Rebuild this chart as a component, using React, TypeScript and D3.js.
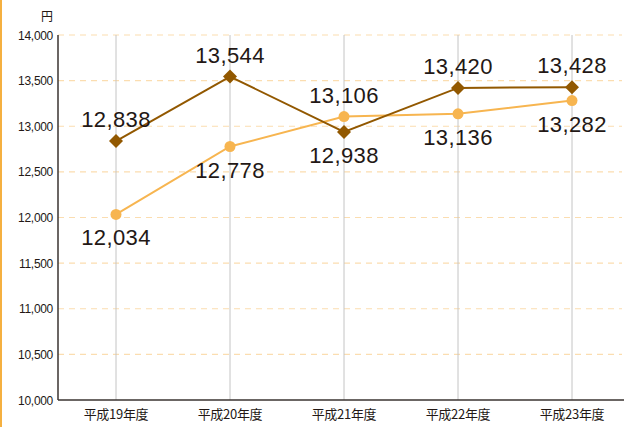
import React from "react";
import * as d3 from "d3";

const categories = ["平成19年度", "平成20年度", "平成21年度", "平成22年度", "平成23年度"];
const seriesA = [12838, 13544, 12938, 13420, 13428];
const seriesB = [12034, 12778, 13106, 13136, 13282];
const labelPosA = ["above", "above", "below", "above", "above"];
const labelPosB = ["below", "below", "above", "below", "below"];
const yTicks = [10000, 10500, 11000, 11500, 12000, 12500, 13000, 13500, 14000];
const unitLabel = "円";

const W = 625;
const H = 427;
const left = 58;
const right = 624;
const top = 35;
const bottom = 400;

export default function App() {
  const x = d3.scalePoint<string>().domain(categories).range([116, 572]);
  const y = d3.scaleLinear().domain([10000, 14000]).range([bottom, top]);
  const fmt = d3.format(",");
  const lineGen = d3
    .line<number>()
    .x((_, i) => x(categories[i]) as number)
    .y((d) => y(d));
  const numFont = "'Liberation Sans', Arial, Helvetica, sans-serif";
  const jpFont = "'Noto Sans CJK JP', 'Liberation Sans', sans-serif";
  const colA = "#925800";
  const colB = "#F7B550";

  const labelY = (v: number, pos: string) => (pos === "above" ? y(v) - 14 : y(v) + 31);

  return (
    <svg
      width={W}
      height={H}
      style={{ position: "absolute", left: 0, top: 0, display: "block", background: "#fff" }}
    >
      <line x1={1} x2={1} y1={0} y2={H} stroke="#F5B040" strokeWidth={2} />
      {yTicks.slice(1).map((t) => (
        <line
          key={"g" + t}
          x1={left}
          x2={622}
          y1={y(t)}
          y2={y(t)}
          stroke="#FBDDB0"
          strokeWidth={1.2}
          strokeDasharray="6,5"
        />
      ))}
      {categories.map((c) => (
        <line
          key={"v" + c}
          x1={x(c)}
          x2={x(c)}
          y1={top}
          y2={bottom}
          stroke="#C4C4C4"
          strokeWidth={1}
        />
      ))}
      <line x1={left} x2={left} y1={top} y2={bottom} stroke="#3a3330" strokeWidth={1.5} />
      <line x1={left} x2={right} y1={bottom} y2={bottom} stroke="#3a3330" strokeWidth={1.5} />
      {yTicks.map((t) => (
        <text
          key={"t" + t}
          x={53}
          y={y(t) + 4.5}
          textAnchor="end"
          fontSize={12}
          fontFamily={numFont}
          fill="#231815"
          letterSpacing={-0.3}
        >
          {fmt(t)}
        </text>
      ))}
      <text x={47} y={21} textAnchor="middle" fontSize={12} fontFamily={jpFont} fill="#231815">
        {unitLabel}
      </text>
      {categories.map((c) => (
        <text
          key={"c" + c}
          x={x(c)}
          y={419}
          textAnchor="middle"
          fontSize={13}
          fontFamily={jpFont}
          fill="#231815"
          letterSpacing={-0.3}
        >
          {c}
        </text>
      ))}
      <path d={lineGen(seriesB) || ""} fill="none" stroke={colB} strokeWidth={2} />
      <path d={lineGen(seriesA) || ""} fill="none" stroke={colA} strokeWidth={2} />
      {seriesB.map((v, i) => (
        <circle key={"b" + i} cx={x(categories[i])} cy={y(v)} r={5.5} fill={colB} />
      ))}
      {seriesA.map((v, i) => {
        const cx = x(categories[i]) as number;
        const cy = y(v);
        const s = 7;
        return (
          <path
            key={"a" + i}
            d={`M${cx},${cy - s}L${cx + s},${cy}L${cx},${cy + s}L${cx - s},${cy}Z`}
            fill={colA}
          />
        );
      })}
      {seriesA.map((v, i) => (
        <text
          key={"la" + i}
          x={x(categories[i])}
          y={labelY(v, labelPosA[i])}
          textAnchor="middle"
          fontSize={22}
          fontFamily={numFont}
          fill="#231815"
          letterSpacing={0.4}
        >
          {fmt(v)}
        </text>
      ))}
      {seriesB.map((v, i) => (
        <text
          key={"lb" + i}
          x={x(categories[i])}
          y={labelY(v, labelPosB[i])}
          textAnchor="middle"
          fontSize={22}
          fontFamily={numFont}
          fill="#231815"
          letterSpacing={0.4}
        >
          {fmt(v)}
        </text>
      ))}
    </svg>
  );
}
